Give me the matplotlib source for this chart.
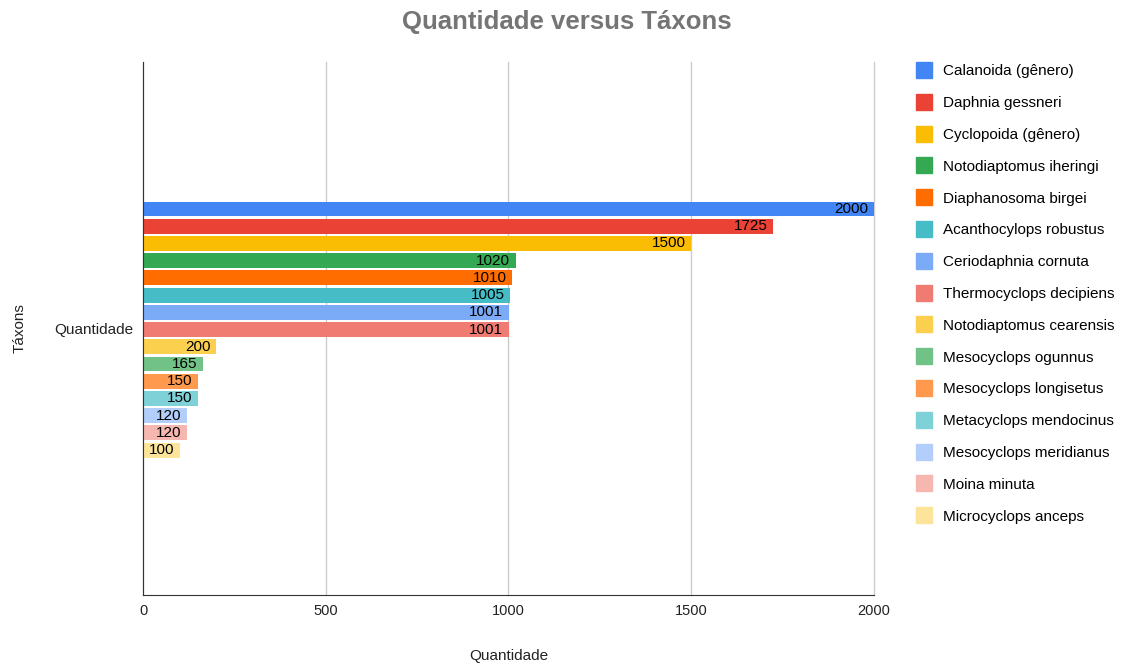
import numpy as np
import matplotlib.pyplot as plt
from matplotlib.lines import Line2D

plt.rcParams['font.family'] = ['Liberation Sans', 'DejaVu Sans']

#------ data ------#
taxa = ['Calanoida (gênero)', 'Daphnia gessneri', 'Cyclopoida (gênero)',
        'Notodiaptomus iheringi', 'Diaphanosoma birgei', 'Acanthocylops robustus',
        'Ceriodaphnia cornuta', 'Thermocyclops decipiens', 'Notodiaptomus cearensis',
        'Mesocyclops ogunnus', 'Mesocyclops longisetus', 'Metacyclops mendocinus',
        'Mesocyclops meridianus', 'Moina minuta', 'Microcyclops anceps']
quantidade = [2000, 1725, 1500, 1020, 1010, 1005, 1001, 1001, 200, 165, 150, 150, 120, 120, 100]
category = 'Quantidade'
x_ticks = [0, 500, 1000, 1500, 2000]

colors = ['#4285F4', '#EA4335', '#FBBC04', '#34A853', '#FF6D01', '#46BDC6',
          '#7BAAF7', '#F07B72', '#FCD04F', '#71C287', '#FF994D', '#7ED1D7',
          '#B3CEFB', '#F7B7B1', '#FDE49B']

#------ figure ------#
fig = plt.figure(figsize=(11.26, 6.66), dpi=100)
ax = fig.add_axes([0.127, 0.1066, 0.649, 0.8004])

n = len(taxa)
step = 0.0323
height = 0.028
pos = (np.arange(n)[::-1] - (n - 1) / 2) * step
pos = pos - 0.002

for i in range(n):
    ax.barh(pos[i], quantidade[i], height=height, color=colors[i], zorder=3)
    ax.annotate(str(quantidade[i]), (quantidade[i], pos[i]), xytext=(-4, 0),
                textcoords='offset points', ha='right', va='center',
                fontsize=11, color='black', zorder=4)

ax.set_xlim(0, 2000)
ax.set_ylim(-0.5, 0.5)
ax.set_xticks(x_ticks)
ax.set_xticklabels([str(t) for t in x_ticks], fontsize=10.5, color='#222222')
ax.set_yticks([0])
ax.set_yticklabels([category], fontsize=11, color='#222222')
ax.tick_params(axis='x', length=0, pad=6.5)
ax.tick_params(axis='y', length=0, pad=7)
ax.grid(axis='x', color='#CCCCCC', linewidth=1, zorder=0)
for gl in ax.get_xgridlines():
    gl.set_clip_on(False)
for s in ['top', 'right']:
    ax.spines[s].set_visible(False)
ax.spines['left'].set_color('#333333')
ax.spines['bottom'].set_color('#333333')
ax.spines['left'].set_zorder(5)
ax.spines['bottom'].set_zorder(5)

ax.set_xlabel('Quantidade', fontsize=11, color='#222222')
ax.xaxis.set_label_coords(0.5, -0.102)
ax.set_ylabel('Táxons', fontsize=11, color='#222222')
ax.yaxis.set_label_coords(-0.159, 0.5)

fig.suptitle('Quantidade versus Táxons', x=0.503, y=0.985, fontsize=18.5,
             fontweight='bold', color='#757575')

#------ legend ------#
handles = [Line2D([], [], marker='s', linestyle='none', markersize=11,
                  markerfacecolor=c, markeredgecolor=c) for c in colors]
fig.legend(handles, taxa, loc='upper left', bbox_to_anchor=(0.808, 0.9125),
           frameon=False, fontsize=11, labelspacing=1.165, handletextpad=0.75,
           handlelength=1.0, borderaxespad=0)

plt.savefig('out.png', dpi=100)
